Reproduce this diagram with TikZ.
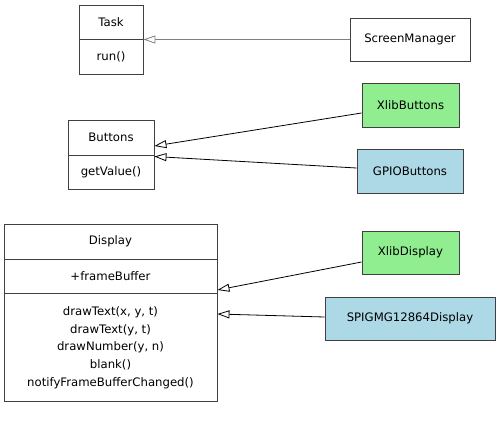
\documentclass[tikz,border=0pt]{standalone}
\usepackage{fontspec}
\setmainfont{DejaVu Sans}
\usetikzlibrary{arrows.meta}
\definecolor{boxline}{HTML}{404040}
\definecolor{lgreen}{HTML}{90EE90}
\definecolor{lblue}{HTML}{ADD8E6}
\begin{document}
\begin{tikzpicture}[x=1pt,y=-1pt,
  every node/.style={font=\fontsize{11.7}{17.7}\selectfont, inner sep=0pt},
  box/.style={draw=boxline, line width=0.9pt, rectangle},
  lbl/.style={align=center},
  inh/.style={line width=0.8pt, -{Triangle[open, length=12pt, width=8pt, fill=white]}},
]
\useasboundingbox (0,0) rectangle (500,442);
% Task
\node[box, minimum width=64pt, minimum height=69pt] (task) at (111,39.5) {};
\draw[boxline, line width=0.9pt] (79,39) -- (143,39);
\node[lbl] (taskname) at (111,22) {Task};
\node[lbl] (taskops) at (111,57) {run()};
% ScreenManager
\node[box, fill=white, minimum width=120pt, minimum height=43pt] (sm) at (410,39.5) {ScreenManager};
% Buttons
\node[box, minimum width=86pt, minimum height=69pt] (buttons) at (111,154.5) {};
\draw[boxline, line width=0.9pt] (68,155) -- (154,155);
\node[lbl] (buttonsname) at (111,137.5) {Buttons};
\node[lbl] (buttonsops) at (111,172) {getValue()};
% XlibButtons / GPIOButtons
\node[box, fill=lgreen, minimum width=97pt, minimum height=44pt] (xb) at (410.5,105) {XlibButtons};
\node[box, fill=lblue, minimum width=106pt, minimum height=44pt] (gb) at (410,171) {GPIOButtons};
% Display
\node[box, minimum width=213pt, minimum height=177pt] (display) at (110.5,312.5) {};
\draw[boxline, line width=0.9pt] (4,259) -- (217,259);
\draw[boxline, line width=0.9pt] (4,293) -- (217,293);
\node[lbl] (displayname) at (110.5,241.5) {Display};
\node[lbl] (displayattr) at (110.5,276) {+frameBuffer};
\node[lbl] (displayops) at (110.5,347.5) {drawText(x, y, t)\\drawText(y, t)\\drawNumber(y, n)\\blank()\\notifyFrameBufferChanged()};
% XlibDisplay / SPI
\node[box, fill=lgreen, minimum width=97pt, minimum height=43pt] (xd) at (410.5,252.5) {XlibDisplay};
\node[box, fill=lblue, minimum width=170pt, minimum height=43pt] (spi) at (410,318.5) {SPIGMG12864Display};
% Inheritance arrows
\draw[inh, draw=gray] (sm.west) -- (task.east);
\draw[inh] ([yshift=-8pt]xb.west) -- ([yshift=8.5pt]buttons.east);
\draw[inh] ([yshift=3pt]gb.west) -- ([yshift=-2pt]buttons.east);
\draw[inh] ([yshift=-9.5pt]xd.west) -- ([yshift=22.5pt]display.east);
\draw[inh] ([yshift=1.5pt]spi.west) -- ([yshift=-1.5pt]display.east);
\end{tikzpicture}
\end{document}
